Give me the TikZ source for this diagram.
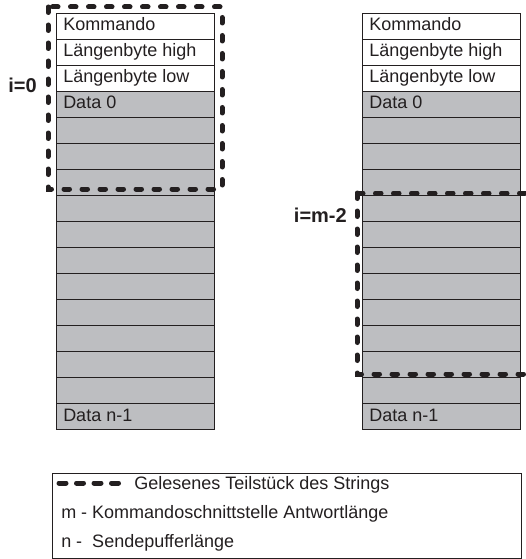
\documentclass[tikz,border=0pt]{standalone}
\usepackage{fontspec}
\setmainfont{Liberation Sans}
\definecolor{cellgray}{HTML}{BDBEC1}
\definecolor{ink}{HTML}{231F20}
\tikzset{
  cell/.style={draw=ink, line width=0.9pt},
  celltext/.style={anchor=base west, inner sep=0pt, text=ink, font=\fontsize{18}{18}\selectfont},
  idx/.style={anchor=east, inner sep=0pt, text=ink, font=\fontsize{20}{20}\selectfont\bfseries},
  readpart/.style={draw=ink, line width=5pt, line cap=round, dash pattern=on 5.5pt off 12.5pt},
  legdash/.style={draw=ink, line width=5pt, line cap=round, dash pattern=on 7pt off 10.5pt}
}
\begin{document}
\begin{tikzpicture}[x=1pt, y=-1pt, line width=0.5pt]
\useasboundingbox (0,0) rectangle (525,559);

% two send buffers
\foreach \col/\x in {L/56, R/362} {
  \fill[cellgray] (\x,91) rectangle ++(158,338);
  \foreach \k in {1,...,15}
    \draw[cell] (\x,13+26*\k) -- ++(158,0);
  \draw[cell] (\x,13) rectangle ++(158,416);
  \node[celltext] (\col-cmd) at (\x+7,31) {Kommando};
  \node[celltext] (\col-high) at (\x+7,57) {Längenbyte high};
  \node[celltext] (\col-low) at (\x+7,83) {Längenbyte low};
  \node[celltext] (\col-first) at (\x+7,109) {Data 0};
  \node[celltext] (\col-last) at (\x+7,421) {Data n-1};
}

% read windows
\draw[readpart] (48,7) rectangle (222,189);
\draw[readpart] (357,193) rectangle (530,374);
\node[idx] (i-first) at (37,85) {i=0};
\node[idx] (i-last) at (347,215) {i=m-2};

% legend
\draw[cell] (52,473) rectangle (521,558);
\draw[legdash] (59,483) -- (120,483);
\node[celltext] (leg-read) at (134,489) {Gelesenes Teilstück des Strings};
\node[celltext] (leg-m) at (61,518) {m - Kommandoschnittstelle Antwortlänge};
\node[celltext] (leg-n) at (61,547) {n -\ \ Sendepufferlänge};
\end{tikzpicture}
\end{document}
